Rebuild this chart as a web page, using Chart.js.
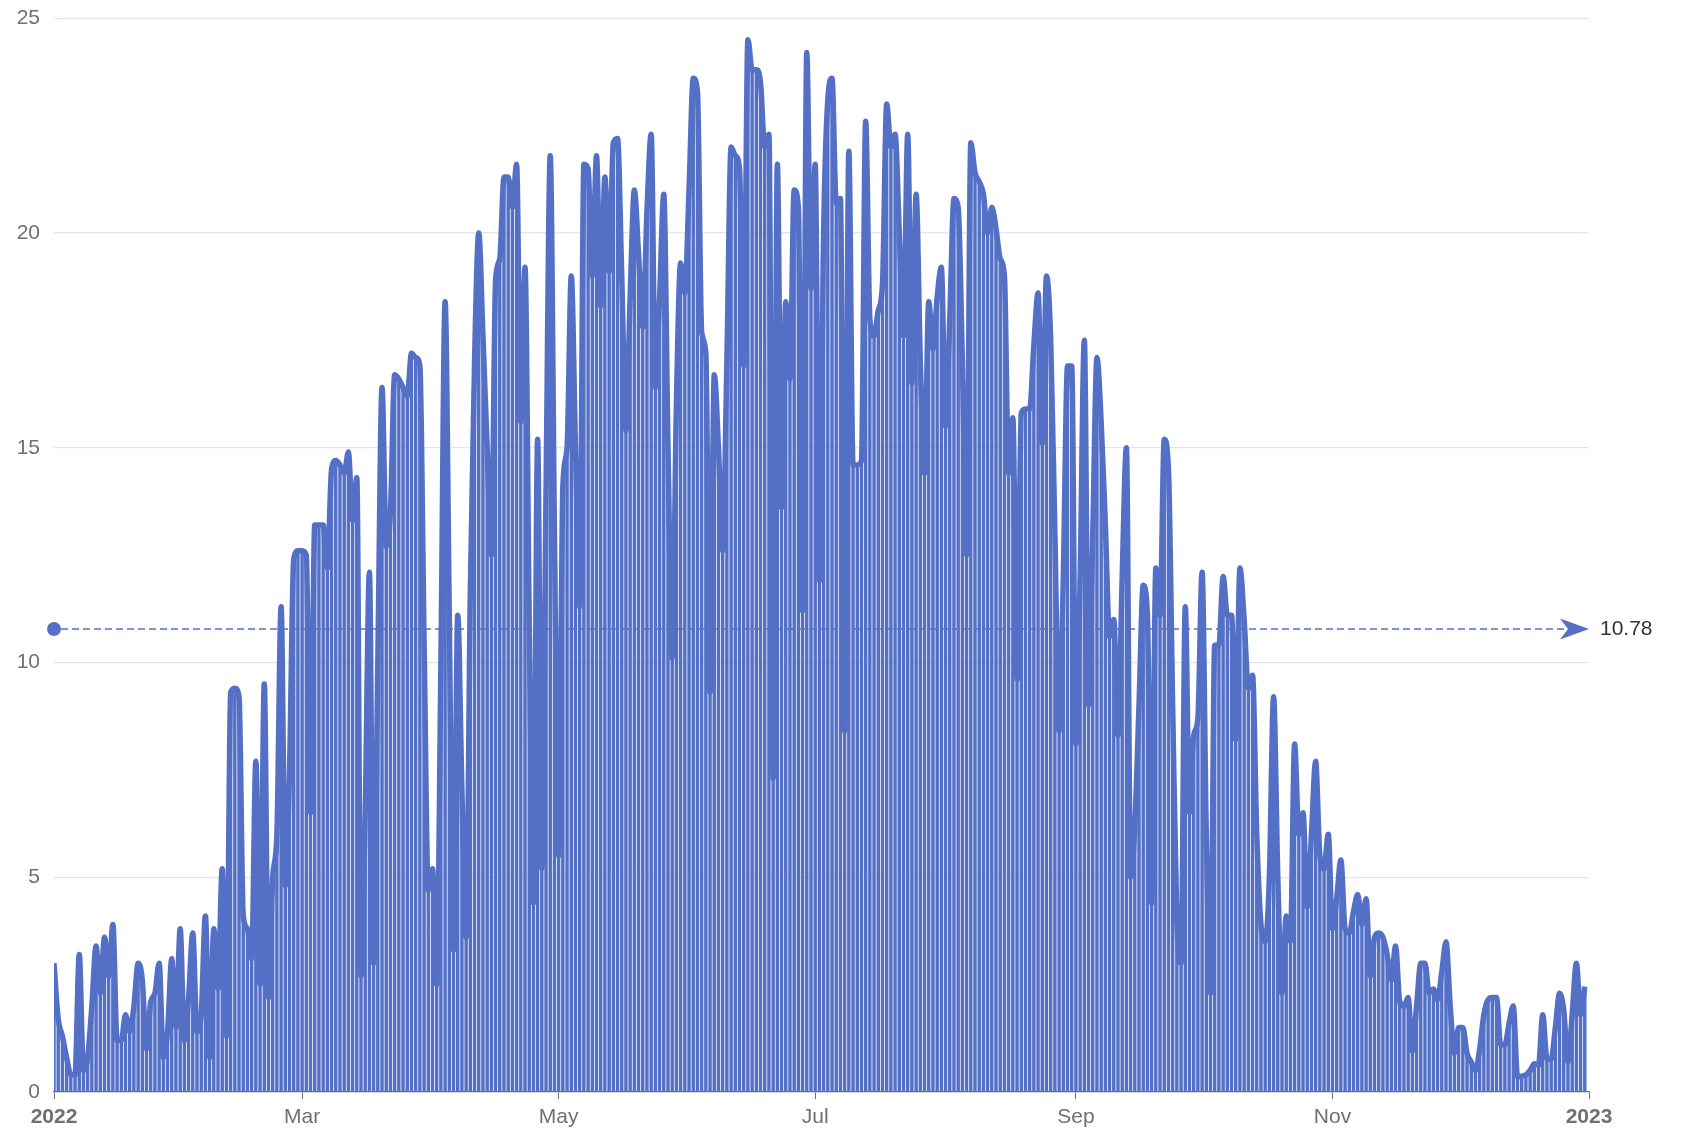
<!DOCTYPE html>
<html>
<head>
<meta charset="utf-8">
<title>Daily values 2022</title>
<script src="https://cdn.jsdelivr.net/npm/chart.js@4.4.1/dist/chart.umd.min.js"></script>
<style>
  html, body { margin: 0; padding: 0; background: #fff; }
  #wrap { width: 1681px; height: 1130px; }
</style>
</head>
<body>
<div id="wrap"><canvas id="dailyChart"></canvas></div>
<script>
// Daily values for 2022, one array per month
const jan = [3.0, 1.7, 1.3, 0.8, 0.4, 0.4, 3.2, 0.5, 0.8, 2.0, 3.4, 2.3, 3.6, 2.7, 3.9, 1.2, 1.2, 1.8, 1.4, 2.0, 3.0, 2.6, 1.0, 2.1, 2.3, 3.0, 0.8, 1.4, 3.1, 1.5, 3.8];
const feb = [1.2, 2.2, 3.7, 1.4, 1.8, 4.1, 0.8, 3.8, 2.4, 5.2, 1.3, 9.3, 9.4, 9.2, 4.1, 3.8, 3.1, 7.7, 2.5, 9.5, 2.2, 5.0, 6.0, 11.3, 4.8, 7.5, 12.4, 12.6];
const mar = [12.6, 12.5, 6.5, 13.2, 13.2, 13.2, 12.2, 14.5, 14.7, 14.6, 14.4, 14.9, 13.3, 14.3, 2.7, 6.5, 12.1, 3.0, 10.0, 16.4, 12.7, 13.5, 16.7, 16.6, 16.4, 16.2, 17.2, 17.1, 16.9, 10.5, 4.7];
const apr = [5.2, 2.5, 10.0, 18.4, 11.0, 3.3, 11.1, 7.0, 3.6, 11.7, 17.0, 20.0, 17.6, 15.0, 12.5, 18.9, 19.4, 21.3, 21.3, 20.6, 21.6, 15.6, 19.2, 11.0, 4.4, 15.2, 5.2, 14.0, 21.8, 13.0];
const may = [5.5, 14.1, 15.0, 19.0, 15.0, 11.3, 21.6, 21.5, 19.0, 21.8, 18.3, 21.3, 19.1, 22.1, 22.2, 19.0, 15.4, 18.5, 21.0, 19.5, 17.8, 20.5, 22.3, 16.4, 18.5, 20.9, 15.0, 10.1, 16.0, 19.3, 18.6];
const jun = [21.0, 23.6, 23.3, 17.7, 17.2, 9.3, 16.7, 15.0, 12.6, 17.0, 22.0, 21.8, 21.5, 16.9, 24.5, 23.8, 23.8, 23.5, 22.0, 22.3, 7.3, 21.6, 13.6, 18.4, 16.6, 21.0, 20.6, 11.2, 24.2, 18.7];
const jul = [21.6, 11.9, 20.0, 23.1, 23.6, 20.7, 20.8, 8.4, 21.9, 14.6, 14.6, 14.7, 22.6, 18.0, 17.6, 18.2, 18.8, 23.0, 22.0, 22.3, 20.0, 17.6, 22.3, 16.5, 20.9, 17.0, 14.4, 18.4, 17.3, 18.5, 19.2];
const aug = [15.5, 18.0, 20.8, 20.6, 17.0, 12.5, 22.1, 21.4, 21.2, 20.9, 20.0, 20.6, 20.1, 19.4, 19.0, 14.4, 15.7, 9.6, 15.8, 15.9, 15.9, 17.4, 18.6, 15.1, 19.0, 17.5, 13.0, 8.4, 12.0, 16.9, 16.9];
const sep = [8.1, 12.0, 17.5, 9.0, 13.0, 17.1, 15.6, 13.2, 10.6, 11.0, 8.3, 12.0, 15.0, 5.0, 6.2, 9.0, 11.8, 11.1, 4.4, 12.2, 11.1, 15.2, 14.5, 9.0, 4.0, 3.0, 11.3, 6.5, 8.3, 8.7];
const oct = [12.1, 6.0, 2.3, 10.4, 10.4, 12.0, 11.1, 11.1, 8.2, 12.2, 11.0, 9.4, 9.7, 6.0, 3.9, 3.5, 5.0, 9.2, 5.0, 2.3, 4.1, 3.5, 8.1, 6.0, 6.5, 4.3, 6.0, 7.7, 5.5, 5.2, 6.0];
const nov = [3.8, 4.5, 5.4, 3.8, 3.7, 4.2, 4.6, 3.9, 4.5, 2.7, 3.6, 3.7, 3.6, 3.2, 2.6, 3.4, 2.1, 2.0, 2.2, 0.95, 2.0, 3.0, 3.0, 2.3, 2.4, 2.15, 2.8, 3.5, 2.0, 0.9];
const dec = [1.5, 1.5, 0.9, 0.7, 0.5, 1.0, 1.8, 2.15, 2.2, 2.2, 1.1, 1.1, 1.6, 2.0, 0.35, 0.37, 0.4, 0.5, 0.66, 0.62, 1.8, 0.77, 0.77, 1.5, 2.3, 1.9, 0.7, 1.8, 3.0, 1.8, 2.45];

// x axis: day of year where a label sits, and its text
const tickDays = [0, 59, 120, 181, 243, 304, 365];
const tickLabels = ['2022', 'Mar', 'May', 'Jul', 'Sep', 'Nov', '2023'];
const yTicks = [0, 5, 10, 15, 20, 25];
const averageValue = 10.78;

const dailyValues = [].concat(jan, feb, mar, apr, may, jun, jul, aug, sep, oct, nov, dec);
const points = dailyValues.map((v, i) => ({ x: i, y: v }));

const seriesColor = '#5470c6';
const axisColor = '#6E7079';
const fontSize = 21;

Chart.defaults.font.family = '"Liberation Sans", Arial, Helvetica, sans-serif';
Chart.defaults.font.size = fontSize;

// dashed average line with a dot at the start, an arrow at the end and its value
const averageLine = {
    id: 'averageLine',
    afterDatasetsDraw(chart) {
        const { ctx, chartArea, scales } = chart;
        const y = scales.y.getPixelForValue(averageValue);
        const x0 = chartArea.left;
        const x1 = chartArea.right;
        ctx.save();
        ctx.strokeStyle = seriesColor;
        ctx.lineWidth = 1.6;
        ctx.setLineDash([7, 4]);
        ctx.beginPath();
        ctx.moveTo(x0 + 7, y);
        ctx.lineTo(x1 - 22, y);
        ctx.stroke();
        ctx.setLineDash([]);
        ctx.fillStyle = seriesColor;
        ctx.beginPath();
        ctx.arc(x0, y, 7, 0, Math.PI * 2);
        ctx.fill();
        // arrow head
        ctx.beginPath();
        ctx.moveTo(x1, y);
        ctx.lineTo(x1 - 29, y - 10.5);
        ctx.lineTo(x1 - 21, y);
        ctx.lineTo(x1 - 29, y + 10.5);
        ctx.closePath();
        ctx.fill();
        ctx.fillStyle = '#333';
        ctx.font = fontSize + 'px "Liberation Sans", Arial, sans-serif';
        ctx.textBaseline = 'middle';
        ctx.textAlign = 'left';
        ctx.fillText(averageValue.toFixed(2), x1 + 11, y);
        ctx.restore();
    }
};

const chart = new Chart(document.getElementById('dailyChart'), {
    type: 'bar',
    data: {
        datasets: [
            {
                type: 'line',
                data: points,
                borderColor: seriesColor,
                borderWidth: 5.5,
                pointRadius: 0,
                cubicInterpolationMode: 'monotone',
                fill: false,
                order: 0
            },
            {
                type: 'bar',
                data: points,
                backgroundColor: seriesColor,
                borderWidth: 0,
                barPercentage: 0.82,
                categoryPercentage: 1.0,
                order: 1
            }
        ]
    },
    options: {
        responsive: true,
        maintainAspectRatio: false,
        animation: false,
        layout: { padding: { top: 17, right: 92, bottom: 0, left: 0 } },
        plugins: {
            legend: { display: false },
            tooltip: { enabled: false }
        },
        scales: {
            x: {
                type: 'linear',
                min: 0,
                max: 365,
                offset: false,
                afterBuildTicks: scale => { scale.ticks = tickDays.map(v => ({ value: v })); },
                afterFit: scale => { scale.height = 38; },
                ticks: {
                    autoSkip: false,
                    maxRotation: 0,
                    color: axisColor,
                    padding: 6,
                    callback: v => tickLabels[tickDays.indexOf(v)],
                    font: ctx => ({
                        size: fontSize,
                        weight: (ctx.tick && (ctx.tick.value === 0 || ctx.tick.value === 365)) ? 'bold' : 'normal'
                    })
                },
                grid: {
                    display: true,
                    offset: false,
                    drawOnChartArea: false,
                    drawTicks: true,
                    tickLength: 7,
                    color: axisColor,
                    lineWidth: 1
                },
                border: { display: true, color: axisColor, width: 1.3 }
            },
            y: {
                min: 0,
                max: 25,
                afterBuildTicks: scale => { scale.ticks = yTicks.map(v => ({ value: v })); },
                afterFit: scale => { scale.width = 54; },
                ticks: { color: axisColor, padding: 14, font: { size: fontSize, lineHeight: 0.4 } },
                grid: { color: '#E0E6F1', lineWidth: 1.3, drawTicks: false },
                border: { display: false }
            }
        }
    },
    plugins: [averageLine]
});
</script>
</body>
</html>
